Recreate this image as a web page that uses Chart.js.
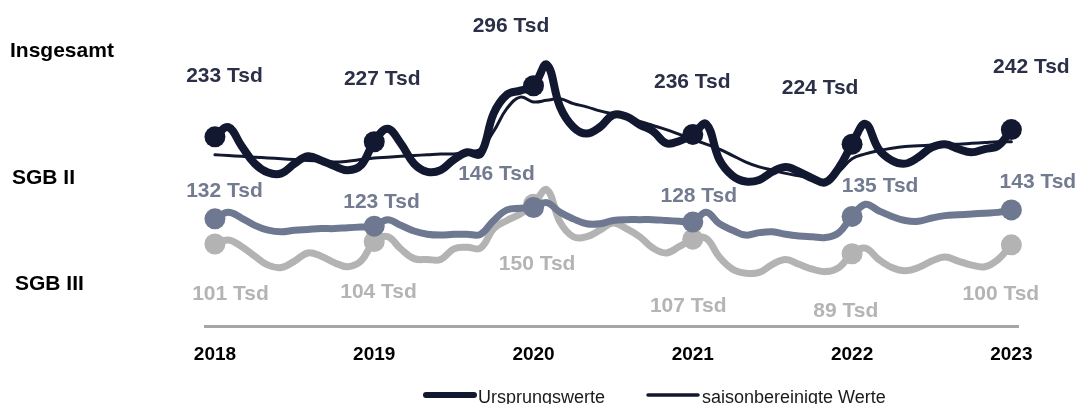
<!DOCTYPE html>
<html>
<head>
<meta charset="utf-8">
<script src="https://cdn.jsdelivr.net/npm/chart.js@4"></script>
<style>
  body { margin: 0; background: #fff; }
  #wrap { width: 1076px; height: 404px; }
</style>
</head>
<body>
<div id="wrap"><canvas id="myChart"></canvas></div>
<script>
// Jahre (Tick-Beschriftung), Monatswerte Jan 2018 - Jan 2023 in Tsd
const jahre = ['2018', '2019', '2020', '2021', '2022', '2023'];

const insgesamt = [233, 245, 222, 200, 189, 188, 200, 209, 204, 197, 192, 198,
                   227, 243, 225, 200, 190, 192, 205, 214, 212, 262, 285, 290,
                   296, 322, 270, 245, 237, 245, 260, 258, 248, 240, 225, 228,
                   236, 249, 205, 185, 178, 180, 190, 196, 190, 182, 177, 195,
                   224, 249, 218, 204, 200, 208, 220, 224, 218, 214, 218, 222, 242];

const saisonbereinigt = [211, 210, 209, 208, 207, 206, 205, 204, 203, 202, 203, 205,
                         207, 208, 209, 210, 211, 212, 212, 214, 218, 240, 268, 282,
                         276, 278, 280, 274, 270, 265, 261, 256, 252, 247, 242, 236,
                         230, 224, 218, 210, 202, 196, 192, 188, 185, 182, 180, 190,
                         206, 212, 216, 219, 221, 222, 223, 224, 224, 225, 226, 227, 227];

const sgb2 = [132, 140, 133, 124, 118, 116, 118, 119, 120, 120, 121, 122,
              123, 131, 124, 117, 113, 112, 113, 113, 113, 130, 143, 145,
              146, 152, 140, 132, 126, 126, 130, 131, 131, 131, 130, 129,
              128, 140, 126, 118, 112, 115, 116, 113, 111, 110, 109, 115,
              135, 150, 142, 135, 130, 129, 133, 136, 137, 138, 139, 140, 143];

const sgb3 = [101, 106, 98, 86, 75, 72, 80, 90, 86, 78, 73, 80,
              104, 110, 95, 83, 82, 82, 95, 97, 96, 120, 130, 138,
              150, 168, 128, 110, 110, 118, 127, 120, 110, 96, 90, 98,
              107, 108, 85, 70, 65, 66, 76, 82, 76, 70, 67, 72,
              89, 96, 82, 72, 68, 72, 80, 85, 80, 75, 73, 82, 100];

// Werte zum Jahresbeginn (beschriftete Punkte)
const insgesamtJahr = [233, 227, 296, 236, 224, 242];
const sgb2Jahr = [132, 123, 146, 128, 135, 143];
const sgb3Jahr = [101, 104, 150, 107, 89, 100];

const NAVY = '#111830';
const SLATE = '#6e7890';
const GREY = '#b3b3b3';
const FONT = '"Liberation Sans", Arial, sans-serif';

function monthly(arr) {
    return arr.map(function (v, i) { return { x: i, y: v }; });
}
function yearly(arr) {
    return arr.map(function (v, i) { return { x: i * 12, y: v }; });
}

function markerSet(arr, color, labelColor, offsets) {
    return {
        data: yearly(arr),
        showLine: false,
        pointRadius: 10.5,
        pointBackgroundColor: color,
        pointBorderWidth: 0,
        clip: false,
        labelColor: labelColor,
        labelOffsets: offsets
    };
}
function lineSet(arr, color, width) {
    return {
        data: monthly(arr),
        borderColor: color,
        borderWidth: width,
        tension: 0.4,
        pointRadius: 0,
        borderCapStyle: 'round',
        borderJoinStyle: 'round',
        clip: false
    };
}

// Wertbeschriftungen an den Jahrespunkten, Zeilentitel und Legende
const valueLabels = {
    id: 'valueLabels',
    afterDatasetsDraw(chart) {
        const ctx = chart.ctx;
        ctx.save();
        ctx.font = 'bold 21px ' + FONT;
        ctx.textAlign = 'center';
        ctx.textBaseline = 'alphabetic';
        chart.data.datasets.forEach(function (ds, i) {
            if (!ds.labelOffsets) return;
            const meta = chart.getDatasetMeta(i);
            ctx.fillStyle = ds.labelColor;
            meta.data.forEach(function (pt, j) {
                const off = ds.labelOffsets[j];
                ctx.fillText(ds.data[j].y + ' Tsd', pt.x + off[0], pt.y + off[1] + 7.5);
            });
        });
        ctx.restore();
    },
    afterDraw(chart) {
        const ctx = chart.ctx;
        ctx.save();
        ctx.fillStyle = '#000';
        ctx.font = 'bold 21px ' + FONT;
        ctx.textAlign = 'left';
        ctx.textBaseline = 'alphabetic';
        ctx.fillText('Insgesamt', 10, 56.5);
        ctx.fillText('SGB II', 12, 183.5);
        ctx.fillText('SGB III', 15, 290);

        // Legende
        ctx.strokeStyle = NAVY;
        ctx.lineCap = 'round';
        ctx.lineWidth = 6;
        ctx.beginPath(); ctx.moveTo(426, 395); ctx.lineTo(474, 395); ctx.stroke();
        ctx.lineWidth = 3.5;
        ctx.beginPath(); ctx.moveTo(648, 395); ctx.lineTo(698, 395); ctx.stroke();
        ctx.font = '18px ' + FONT;
        ctx.fillStyle = '#1a1a1a';
        ctx.fillText('Ursprungswerte', 478, 402.5);
        ctx.fillText('saisonbereinigte Werte', 702, 402.5);
        ctx.restore();
    }
};

const ctx = document.getElementById('myChart').getContext('2d');
const chart = new Chart(ctx, {
    type: 'line',
    data: {
        datasets: [
            markerSet(insgesamtJahr, NAVY, '#2b3048',
                [[9.5, -62], [8, -64.5], [-22.5, -61], [-0.5, -53.5], [-32, -58], [20, -64]]),
            lineSet(insgesamt, NAVY, 8),
            lineSet(saisonbereinigt, NAVY, 3),
            markerSet(sgb2Jahr, SLATE, '#737b91',
                [[9.5, -29.5], [7.3, -26], [-37, -35], [6, -28], [28, -32], [26.5, -29.5]]),
            lineSet(sgb2, SLATE, 7),
            markerSet(sgb3Jahr, GREY, '#b4b4b4',
                [[15.5, 48.3], [4.3, 48.7], [3.6, 58], [-4.6, 65], [-6.3, 55.5], [-10.5, 47.5]]),
            lineSet(sgb3, GREY, 7)
        ]
    },
    options: {
        responsive: true,
        maintainAspectRatio: false,
        animation: false,
        devicePixelRatio: 1,
        layout: { padding: { left: 205, right: 58, top: 50, bottom: 0 } },
        plugins: { legend: { display: false }, tooltip: { enabled: false } },
        scales: {
            x: {
                type: 'linear',
                min: -0.75,
                max: 60.5,
                grid: { display: false, drawTicks: false },
                border: { color: '#a6a6a6', width: 3 },
                afterBuildTicks: function (s) {
                    s.ticks = jahre.map(function (j, i) { return { value: i * 12 }; });
                },
                afterFit: function (s) { s.height = 78; },
                ticks: {
                    padding: 17,
                    color: '#000',
                    font: { family: FONT, size: 19, weight: 'bold' },
                    maxRotation: 0,
                    autoSkip: false,
                    callback: function (v) { return jahre[v / 12]; }
                }
            },
            y: { display: false, min: 0, max: 340 }
        }
    },
    plugins: [valueLabels]
});
</script>
</body>
</html>
